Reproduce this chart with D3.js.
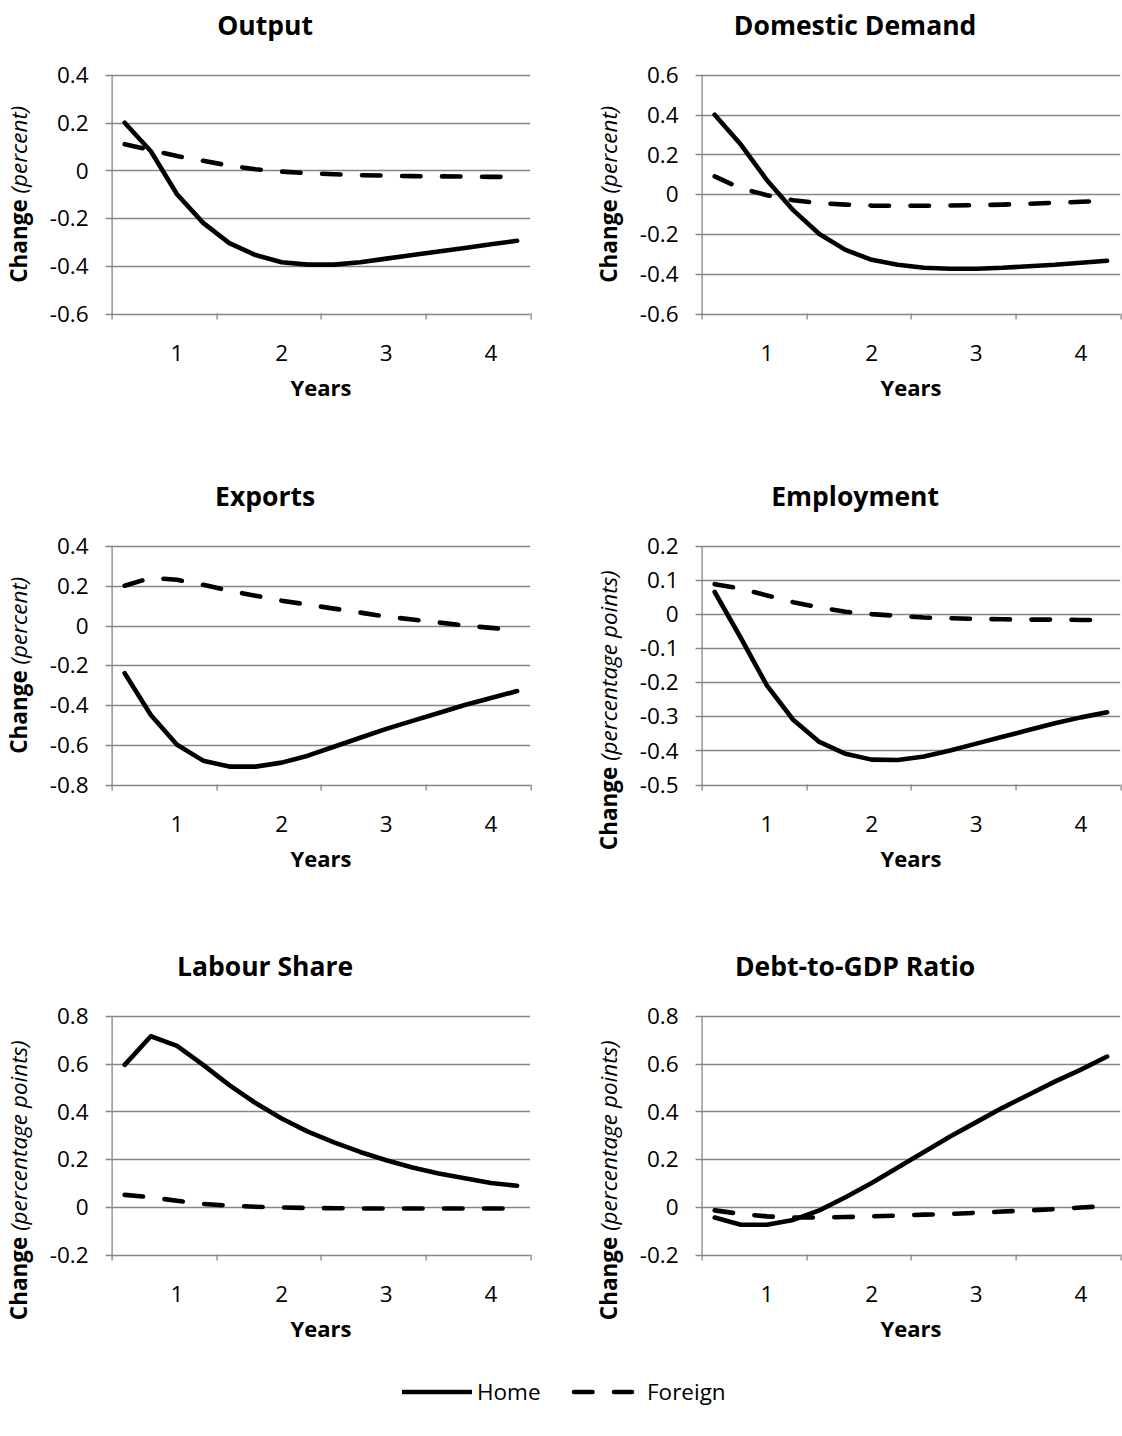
<!DOCTYPE html>
<html>
<head>
<meta charset="utf-8">
<script src="https://cdn.jsdelivr.net/npm/d3@7"></script>
<style>
  body { margin: 0; background: #fff; }
  svg { display: block; font-family: "Open Sans", Lato, sans-serif; }
</style>
</head>
<body>
<div id="chart"></div>
<script>
// quarters 1..16, only every 4th labelled (years)
const quarters = d3.range(16);
const yearLabels = ["1", "2", "3", "4"];
const yearLabelAt = [2, 6, 10, 14];

const titles = ["Output", "Domestic Demand", "Exports", "Employment", "Labour Share", "Debt-to-GDP Ratio"];
const units = ["percent", "percent", "percent", "percentage points", "percentage points", "percentage points"];
const yDomains = [[-0.6, 0.4], [-0.6, 0.6], [-0.8, 0.4], [-0.5, 0.2], [-0.2, 0.8], [-0.2, 0.8]];
const yTickStep = [0.2, 0.2, 0.2, 0.1, 0.2, 0.2];

const outputHome = [0.2, 0.08, -0.1, -0.22, -0.305, -0.355, -0.385, -0.395, -0.395, -0.385, -0.37, -0.355, -0.34, -0.325, -0.31, -0.295];
const outputForeign = [0.11, 0.085, 0.06, 0.04, 0.02, 0.005, -0.005, -0.012, -0.016, -0.02, -0.022, -0.024, -0.025, -0.026, -0.027, -0.027];
const demandHome = [0.4, 0.25, 0.07, -0.08, -0.2, -0.28, -0.33, -0.355, -0.37, -0.375, -0.375, -0.37, -0.362, -0.355, -0.345, -0.335];
const demandForeign = [0.09, 0.03, -0.005, -0.03, -0.045, -0.052, -0.057, -0.058, -0.058, -0.057, -0.055, -0.052, -0.048, -0.043, -0.038, -0.033];
const exportsHome = [-0.24, -0.45, -0.6, -0.68, -0.71, -0.71, -0.69, -0.655, -0.61, -0.565, -0.52, -0.48, -0.44, -0.4, -0.365, -0.33];
const exportsForeign = [0.2, 0.24, 0.23, 0.205, 0.175, 0.15, 0.125, 0.105, 0.085, 0.065, 0.045, 0.03, 0.015, 0.0, -0.012, -0.025];
const employHome = [0.065, -0.07, -0.21, -0.31, -0.375, -0.41, -0.427, -0.428, -0.418, -0.4, -0.38, -0.36, -0.34, -0.32, -0.303, -0.288];
const employForeign = [0.088, 0.075, 0.055, 0.035, 0.02, 0.007, 0.0, -0.005, -0.01, -0.012, -0.014, -0.015, -0.016, -0.016, -0.017, -0.017];
const labourHome = [0.595, 0.715, 0.675, 0.595, 0.51, 0.435, 0.37, 0.315, 0.27, 0.23, 0.195, 0.165, 0.14, 0.12, 0.1, 0.088];
const labourForeign = [0.05, 0.04, 0.025, 0.012, 0.005, 0.0, -0.003, -0.005, -0.006, -0.007, -0.007, -0.007, -0.007, -0.007, -0.007, -0.007];
const debtHome = [-0.045, -0.075, -0.075, -0.055, -0.015, 0.04, 0.1, 0.165, 0.23, 0.295, 0.355, 0.415, 0.47, 0.525, 0.575, 0.63];
const debtForeign = [-0.015, -0.03, -0.04, -0.045, -0.045, -0.043, -0.04, -0.037, -0.033, -0.03, -0.025, -0.02, -0.015, -0.01, -0.003, 0.003];

const homeSeries = [outputHome, demandHome, exportsHome, employHome, labourHome, debtHome];
const foreignSeries = [outputForeign, demandForeign, exportsForeign, employForeign, labourForeign, debtForeign];

const width = 1122, height = 1436;
const colLeft = [111.6, 701.6];
const rowTop = [75, 546, 1016];
const plotW = 418.6, plotH = 238.5;
const gridColor = "#868686";
const dash = "18.5,21.5";
const lineW = 4.6;
const fontSize = "22.5px";

const svg = d3.select("#chart").append("svg")
  .attr("width", width)
  .attr("height", height);

const fmt = v => Math.abs(v) < 1e-9 ? "0" : String(+v.toFixed(1));

titles.forEach((title, k) => {
  const col = k % 2, row = Math.floor(k / 2);
  const g = svg.append("g")
    .attr("transform", `translate(${colLeft[col]},${rowTop[row]})`);

  const x = d3.scaleBand().domain(quarters).range([0, plotW]);
  const y = d3.scaleLinear().domain(yDomains[k]).range([plotH, 0]);
  const step = yTickStep[k];
  const yTicks = d3.range(Math.round((yDomains[k][1] - yDomains[k][0]) / step) + 1)
    .map(i => yDomains[k][0] + i * step);

  // horizontal gridlines
  g.append("g").selectAll("line")
    .data(yTicks)
    .join("line")
    .attr("x1", -6).attr("x2", plotW)
    .attr("y1", d => Math.round(y(d)) + 0.5)
    .attr("y2", d => Math.round(y(d)) + 0.5)
    .attr("stroke", gridColor)
    .attr("stroke-width", 1.3);

  // y axis line
  g.append("line")
    .attr("x1", 0.5).attr("x2", 0.5)
    .attr("y1", 0).attr("y2", plotH + 0.5)
    .attr("stroke", gridColor)
    .attr("stroke-width", 1.3);

  // y tick labels
  g.append("g").selectAll("text")
    .data(yTicks)
    .join("text")
    .attr("x", -23)
    .attr("y", d => y(d))
    .attr("dy", "0.36em")
    .attr("text-anchor", "end")
    .style("font-size", fontSize)
    .text(fmt);

  // x tick marks at every 4th category boundary
  g.append("g").selectAll("line")
    .data([0, 4, 8, 12, 16])
    .join("line")
    .attr("x1", d => Math.round(d * x.bandwidth()) + 0.5)
    .attr("x2", d => Math.round(d * x.bandwidth()) + 0.5)
    .attr("y1", plotH).attr("y2", plotH + 6)
    .attr("stroke", gridColor)
    .attr("stroke-width", 1.3);

  // x labels (years)
  g.append("g").selectAll("text")
    .data(yearLabels)
    .join("text")
    .attr("x", (d, i) => x(yearLabelAt[i]) + x.bandwidth() / 2)
    .attr("y", plotH + 39)
    .attr("dy", "0.36em")
    .attr("text-anchor", "middle")
    .style("font-size", fontSize)
    .text(d => d);

  // axis titles
  g.append("text")
    .attr("x", plotW / 2)
    .attr("y", plotH + 75)
    .attr("dy", "0.36em")
    .attr("text-anchor", "middle")
    .style("font-size", "22px")
    .style("font-weight", "bold")
    .text("Years");

  const yl = g.append("text")
    .attr("dy", "0.36em")
    .attr("text-anchor", "middle")
    .style("font-size", fontSize);
  yl.append("tspan").style("font-weight", "bold").text("Change ");
  yl.append("tspan").style("font-style", "italic").text(`(${units[k]})`);
  // long titles sit lower, their end pinned near the chart bottom
  const len = yl.node().getComputedTextLength();
  const yc = len > plotH ? Math.min(plotH / 2 + 45, plotH + 78 - len / 2) : plotH / 2;
  yl.attr("transform", `translate(${-92.6},${yc}) rotate(-90)`);

  // chart title
  g.append("text")
    .attr("x", (plotW - 111.6) / 2)
    .attr("y", -50)
    .attr("dy", "0.36em")
    .attr("text-anchor", "middle")
    .style("font-size", "26.5px")
    .style("font-weight", "bold")
    .text(title);

  const line = d3.line()
    .x((d, i) => x(i) + x.bandwidth() / 2)
    .y(d => y(d));

  g.append("path")
    .datum(foreignSeries[k])
    .attr("d", line)
    .attr("fill", "none")
    .attr("stroke", "#000")
    .attr("stroke-width", lineW)
    .attr("stroke-linecap", "round")
    .attr("stroke-linejoin", "round")
    .attr("stroke-dasharray", dash);

  g.append("path")
    .datum(homeSeries[k])
    .attr("d", line)
    .attr("fill", "none")
    .attr("stroke", "#000")
    .attr("stroke-width", lineW)
    .attr("stroke-linecap", "round")
    .attr("stroke-linejoin", "round");
});

// legend
const legend = svg.append("g").attr("transform", "translate(0,1392)");
legend.append("line")
  .attr("x1", 402).attr("x2", 472).attr("y1", 0).attr("y2", 0)
  .attr("stroke", "#000").attr("stroke-width", lineW);
legend.append("text")
  .attr("x", 477).attr("y", 0).attr("dy", "0.36em")
  .style("font-size", fontSize).text("Home");
legend.append("line")
  .attr("x1", 574).attr("x2", 632).attr("y1", 0).attr("y2", 0)
  .attr("stroke", "#000").attr("stroke-width", lineW)
  .attr("stroke-linecap", "round")
  .attr("stroke-dasharray", dash);
legend.append("text")
  .attr("x", 647).attr("y", 0).attr("dy", "0.36em")
  .style("font-size", fontSize).text("Foreign");
</script>
</body>
</html>
